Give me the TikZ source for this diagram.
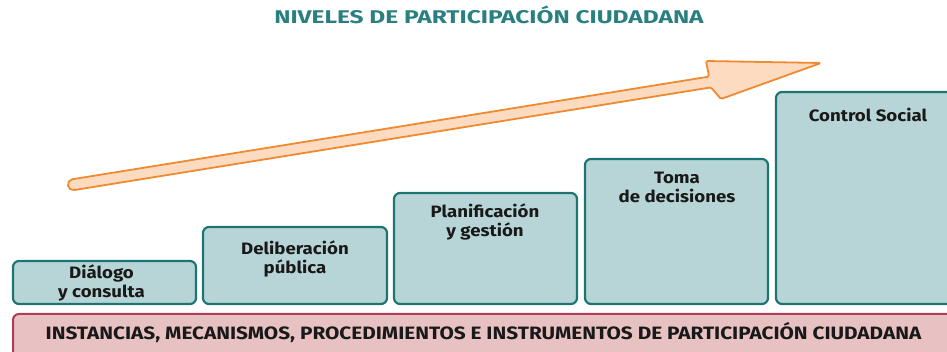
\documentclass[tikz,border=0pt]{standalone}
\usepackage{fontspec}
\setmainfont{Fira Sans}
\newfontfamily\titlefont[FakeStretch=1.33]{Fira Sans}
\newfontfamily\lvlfont[FakeStretch=1.13]{Fira Sans}
\newfontfamily\barfont[FakeStretch=1.16]{Fira Sans}
\definecolor{boxfill}{HTML}{B7D5D6}
\definecolor{boxdraw}{HTML}{1D7573}
\definecolor{barfill}{HTML}{E8C2C2}
\definecolor{bardraw}{HTML}{B23A55}
\definecolor{arrfill}{HTML}{FDDBC0}
\definecolor{arrdraw}{HTML}{F08A30}
\definecolor{titlecol}{HTML}{2A7F80}
\begin{document}
\begin{tikzpicture}[x=1pt,y=-1pt,
  lvl/.style={draw=boxdraw,fill=boxfill,line width=2.2pt,rounded corners=6pt,inner sep=0pt},
  lvltext/.style={font=\lvlfont\bfseries\fontsize{16.5}{19.5}\selectfont,align=center,text=black!90,anchor=base,inner sep=0pt},
  bar/.style={draw=bardraw,fill=barfill,line width=2pt,rounded corners=6pt,inner sep=0pt}]
\useasboundingbox (0,0) rectangle (947,352);
% title
\node[font=\titlefont\bfseries\fontsize{18.4}{20}\selectfont,text=titlecol,anchor=base] (title) at (489,24) {NIVELES DE PARTICIPACIÓN CIUDADANA};
% arrow
\draw[draw=arrdraw,fill=arrfill,line width=1.8pt,line join=round]
  [rounded corners=1.5pt] (390.1,128.1) -- (709.1,76.6) -- (706,61) -- (821,63) -- (721,99) -- (710.9,87.4)
  [rounded corners=5.4pt] -- (68.9,190.9) -- (67.1,180.1) [rounded corners=1.5pt] -- cycle;
% level boxes
\node[lvl,minimum width=183pt,minimum height=43pt] (b1) at (104.5,282.5) {};
\node[lvl,minimum width=184pt,minimum height=77pt] (b2) at (295,265.5) {};
\node[lvl,minimum width=183pt,minimum height=111pt] (b3) at (485.5,248.5) {};
\node[lvl,minimum width=183pt,minimum height=145pt] (b4) at (676.5,231.5) {};
\node[lvl,minimum width=190pt,minimum height=212pt] (b5) at (871,198) {};
\node[lvltext] (t1) at (101.5,298) {Diálogo\\y consulta};
\node[lvltext] (t2) at (295,274) {Deliberación\\pública};
\node[lvltext] (t3) at (485,237) {Planificación\\y gestión};
\node[lvltext] (t4) at (677,203) {Toma\\de decisiones};
\node[lvltext] (t5) at (868,122) {Control Social};
% bottom bar
\node[bar,minimum width=950pt,minimum height=50pt,anchor=north west] (bar) at (12,313) {};
\node[font=\barfont\bfseries\fontsize{17.9}{20}\selectfont,text=black!90,anchor=base] (bartext) at (483.5,340) {INSTANCIAS, MECANISMOS, PROCEDIMIENTOS E INSTRUMENTOS DE PARTICIPACIÓN CIUDADANA};
\end{tikzpicture}
\end{document}
